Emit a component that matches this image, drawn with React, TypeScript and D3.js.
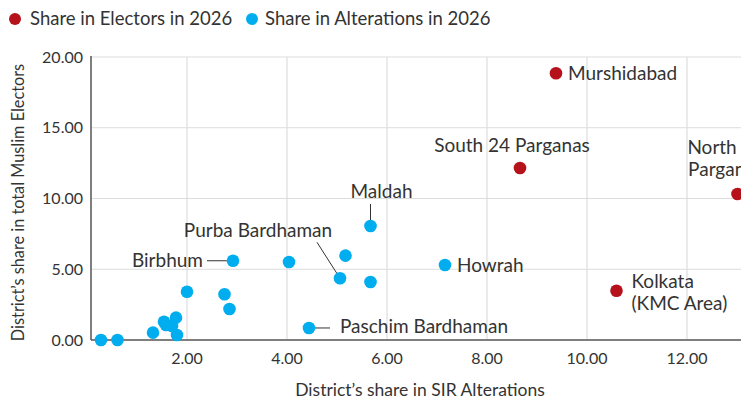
import React from 'react';
import * as d3 from 'd3';

// electors (red) points
const electorNames = ['Murshidabad', 'South 24 Parganas', 'North 24 Parganas', 'Kolkata'];
const electorX = [9.38, 8.66, 13.01, 10.59];
const electorY = [18.85, 12.16, 10.32, 3.48];

// alterations (blue) points
const altNames = [
  '', '', '', '', '', '', '', '', '', '', '',
  'Birbhum', '', 'Paschim Bardhaman', 'Purba Bardhaman', '', 'Maldah', '', 'Howrah',
];
const altX = [0.28, 0.61, 1.32, 1.54, 1.58, 1.70, 1.78, 1.80, 2.00, 2.75, 2.85, 2.92, 4.04, 4.44, 5.06, 5.17, 5.67, 5.67, 7.16];
const altY = [0.0, 0.0, 0.52, 1.29, 1.06, 0.99, 1.58, 0.35, 3.41, 3.23, 2.19, 5.60, 5.51, 0.85, 4.36, 5.96, 8.06, 4.10, 5.30];

const xTicks = [2, 4, 6, 8, 10, 12];
const yTicks = [0, 5, 10, 15, 20];

const legendLabels = ['Share in Electors in 2026', 'Share in Alterations in 2026'];
const RED = '#b5121b';
const BLUE = '#00aeef';
const TEXT = '#333';
const FONT = 'Lato, "Open Sans", sans-serif';

export default () => {
  const width = 741;
  const height = 402;
  const margin = { top: 57, right: 0, bottom: 62, left: 91 };

  // x=0 sits just left of the axis line
  const xScale = d3.scaleLinear().domain([0.08, 13.08]).range([margin.left, width - margin.right]);
  const yScale = d3.scaleLinear().domain([0, 20]).range([height - margin.bottom, margin.top]);
  const fmt = d3.format('.2f');

  const x0 = xScale.range()[0];
  const y0 = yScale(0);

  const pt = (i: number) => ({ x: xScale(altX[i]), y: yScale(altY[i]) });
  const ept = (i: number) => ({ x: xScale(electorX[i]), y: yScale(electorY[i]) });

  const birb = pt(altNames.indexOf('Birbhum'));
  const pasch = pt(altNames.indexOf('Paschim Bardhaman'));
  const purba = pt(altNames.indexOf('Purba Bardhaman'));
  const mald = pt(altNames.indexOf('Maldah'));
  const howr = pt(altNames.indexOf('Howrah'));

  const mur = ept(0);
  const s24 = ept(1);
  const n24 = ept(2);
  const kol = ept(3);

  const labelStyle = { fontSize: 19, fill: TEXT, fontFamily: FONT };

  return (
    <svg width={width} height={height} style={{ position: 'absolute', left: 0, top: 0 }}>
      <rect width={width} height={height} fill="#fff" />

      {/* legend */}
      <g fontFamily={FONT} fontSize={18.5} fill={TEXT}>
        <circle cx={15} cy={19} r={6} fill={RED} />
        <text x={30} y={25}>{legendLabels[0]}</text>
        <circle cx={252} cy={19} r={6} fill={BLUE} />
        <text x={265} y={25}>{legendLabels[1]}</text>
      </g>

      {/* grid */}
      <g stroke="#ddd" strokeWidth={1.2}>
        {xTicks.map((t) => (
          <line key={`gx${t}`} x1={xScale(t)} x2={xScale(t)} y1={margin.top} y2={y0} />
        ))}
        {yTicks.filter((t) => t > 0).map((t) => (
          <line key={`gy${t}`} x1={x0} x2={width} y1={yScale(t)} y2={yScale(t)} />
        ))}
      </g>

      {/* axes */}
      <g stroke="#555" strokeWidth={1.5}>
        <line x1={x0} x2={x0} y1={margin.top - 1} y2={y0} />
        <line x1={x0} x2={width} y1={y0} y2={y0} />
      </g>

      <g fontFamily={FONT} fontSize={16} fill={TEXT}>
        {yTicks.map((t) => (
          <text key={`ty${t}`} x={x0 - 8} y={yScale(t)} dy="0.35em" textAnchor="end">{fmt(t)}</text>
        ))}
        {xTicks.map((t) => (
          <text key={`tx${t}`} x={xScale(t)} y={y0 + 24} textAnchor="middle">{fmt(t)}</text>
        ))}
      </g>

      <text
        x={(x0 + width) / 2 + 4}
        y={396}
        textAnchor="middle"
        fontFamily={FONT}
        fontSize={17.5}
        fill={TEXT}
      >
        District’s share in SIR Alterations
      </text>
      <text
        transform={`translate(24, ${(margin.top + y0) / 2 + 4}) rotate(-90)`}
        textAnchor="middle"
        fontFamily={FONT}
        fontSize={16.3}
        fill={TEXT}
      >
        District’s share in total Muslim Electors
      </text>

      {/* leader lines */}
      <g stroke={TEXT} strokeWidth={1}>
        <line x1={mald.x} x2={mald.x} y1={mald.y - 22} y2={mald.y} />
        <line x1={purba.x - 23} x2={purba.x} y1={purba.y - 36} y2={purba.y} />
        <line x1={birb.x - 26} x2={birb.x} y1={birb.y} y2={birb.y} />
        <line x1={pasch.x} x2={pasch.x + 21} y1={pasch.y} y2={pasch.y} />
      </g>

      {/* points */}
      <g>
        {altX.map((d, i) => (
          <circle key={`a${i}`} cx={xScale(d)} cy={yScale(altY[i])} r={6.3} fill={BLUE} />
        ))}
        {electorX.map((d, i) => (
          <circle key={`e${i}`} cx={xScale(d)} cy={yScale(electorY[i])} r={6.3} fill={RED} />
        ))}
      </g>

      {/* labels */}
      <g style={labelStyle}>
        <text x={mald.x + 11} y={mald.y - 28} textAnchor="middle">Maldah</text>
        <text x={purba.x - 82} y={purba.y - 41} textAnchor="middle">Purba Bardhaman</text>
        <text x={birb.x - 30} y={birb.y + 6} textAnchor="end">Birbhum</text>
        <text x={pasch.x + 31} y={pasch.y + 5}>Paschim Bardhaman</text>
        <text x={howr.x + 12} y={howr.y + 7}>Howrah</text>
        <text x={mur.x + 12} y={mur.y + 7}>Murshidabad</text>
        <text x={s24.x - 8} y={s24.y - 16} textAnchor="middle">South 24 Parganas</text>
        <text x={n24.x - 12} y={n24.y - 40} textAnchor="middle">North 24</text>
        <text x={n24.x - 12} y={n24.y - 18} textAnchor="middle">Parganas</text>
        <text x={kol.x + 15} y={kol.y - 3}>Kolkata</text>
        <text x={kol.x + 15} y={kol.y + 19}>(KMC Area)</text>
      </g>
    </svg>
  );
};
